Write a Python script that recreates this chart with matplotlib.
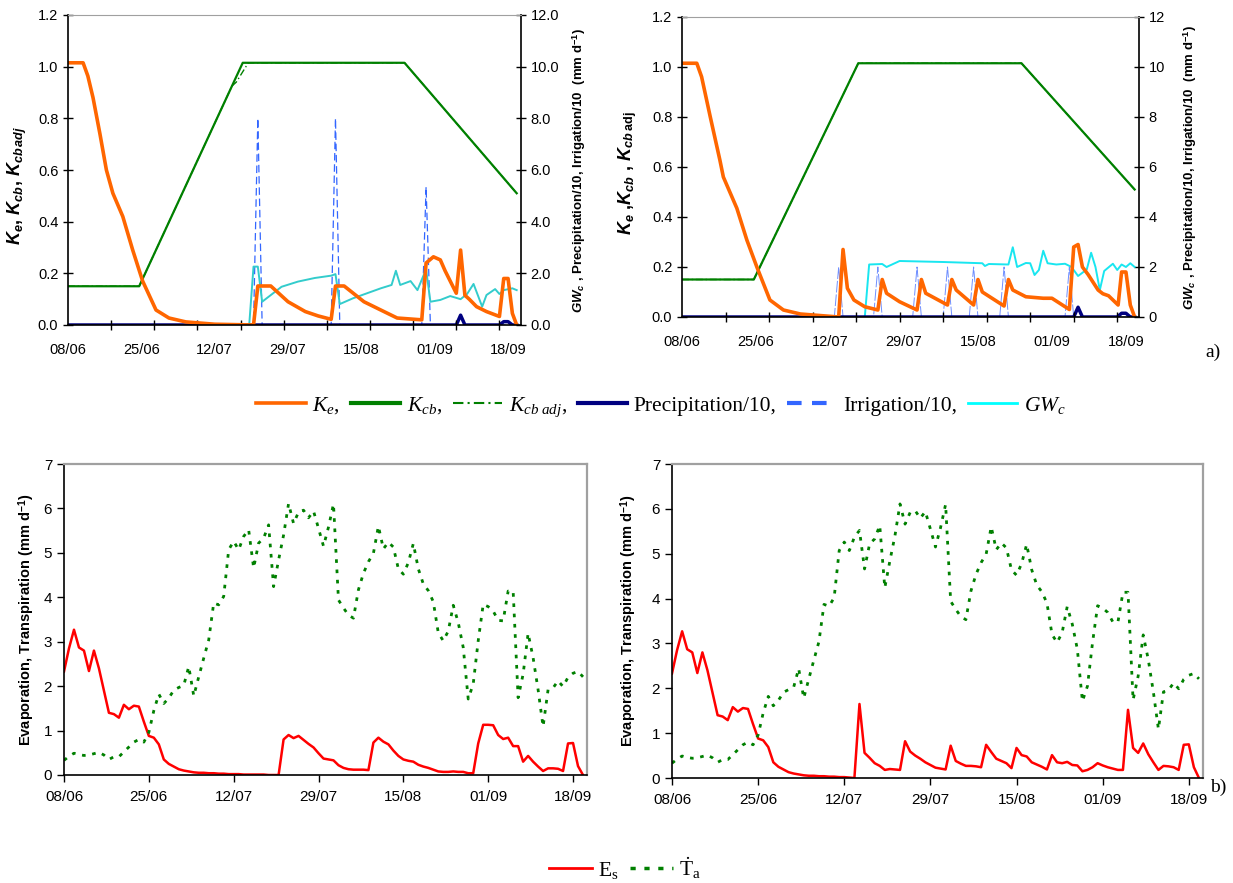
import matplotlib
matplotlib.use('Agg')
import matplotlib.pyplot as plt
from matplotlib.lines import Line2D
from matplotlib.ticker import FormatStrFormatter, FixedLocator

plt.rcParams['font.family'] = ['Liberation Sans', 'DejaVu Sans']
plt.rcParams['mathtext.fontset'] = 'custom'
plt.rcParams['mathtext.rm'] = 'Liberation Serif'
plt.rcParams['mathtext.it'] = 'Liberation Serif:italic'
plt.rcParams['mathtext.bf'] = 'Liberation Sans:bold'
plt.rcParams['mathtext.bfit'] = 'Liberation Sans:italic:bold'

# x = days after 08/06
tick_days = [0, 17, 34, 51, 68, 85, 102]
tick_labels = ['08/06', '25/06', '12/07', '29/07', '15/08', '01/09', '18/09']
days = list(range(105))

# ---- a) crop coefficients, left scenario
kcb_days = [0, 16.5, 40.5, 78, 104]
kcb = [0.15, 0.15, 1.015, 1.015, 0.51]
kcb_adj_l_days = [0, 16.5, 38, 39, 41.8, 78, 104]
kcb_adj_l = [0.15, 0.15, 0.925, 0.94, 1.015, 1.015, 0.51]

ke_l_days = [0, 3.5, 4.6, 5.8, 7.4, 8.9, 10.4, 12.7, 15, 17.3, 20.4, 23.4, 27.3, 34, 43, 44, 47,
             51, 55, 58, 61, 62, 64, 68.6, 72.5, 76.3, 82, 83, 84.7, 86.3, 87.4, 90, 91, 92, 93,
             94.7, 97, 100, 101, 102, 103, 104]
ke_l = [1.015, 1.015, 0.964, 0.88, 0.74, 0.60, 0.51, 0.42, 0.29, 0.17, 0.058, 0.027, 0.012, 0.003,
        0.0, 0.151, 0.151, 0.09, 0.052, 0.035, 0.022, 0.151, 0.151, 0.09, 0.058, 0.027, 0.02, 0.24,
        0.264, 0.252, 0.21, 0.123, 0.29, 0.115, 0.10, 0.071, 0.052, 0.033, 0.18, 0.18, 0.045, 0.0]

gw_l_days = [0, 42, 43, 44, 45, 49.5, 53.3, 57.2, 61, 62, 63, 66, 72.5, 75, 76, 77, 79.4, 81, 83, 84,
             86.3, 88.6, 91, 92.5, 94, 96, 97, 99, 100, 101, 103, 104]
gw_l = [0, 0, 2.26, 2.26, 0.90, 1.48, 1.68, 1.82, 1.91, 1.97, 0.81, 1.03, 1.42, 1.55, 2.1, 1.55, 1.70,
        1.35, 2.16, 0.90, 0.97, 1.12, 1.0, 1.2, 1.59, 0.71, 1.16, 1.39, 1.20, 1.35, 1.42, 1.35]

irr_l_days = [0, 43, 44, 45, 61, 62, 63, 82, 83, 84, 104]
irr_l = [0, 0, 8.0, 0, 0, 8.0, 0, 0, 5.35, 0, 0]

pre_l_days = [0, 90, 91, 92, 100, 101, 102, 103, 104]
pre_l = [0, 0, 0.38, 0, 0, 0.13, 0.13, 0, 0]

# ---- a) crop coefficients, right scenario
ke_r_days = [0, 3.4, 4.5, 6.5, 8.7, 9.5, 12.6, 14.9, 17.2, 20.2, 23.3, 27.2, 36, 37, 38, 39.5, 42, 45,
             46, 47, 50, 54, 55, 56, 61, 62, 63, 67, 68, 69, 74, 75, 76, 79, 83, 85, 89, 90, 91, 92,
             93.3, 95.6, 96.7, 98, 100.2, 101, 102, 103, 104]
ke_r = [1.015, 1.015, 0.961, 0.80, 0.628, 0.56, 0.435, 0.308, 0.2, 0.068, 0.028, 0.012, 0.0, 0.27,
        0.115, 0.068, 0.041, 0.028, 0.15, 0.095, 0.061, 0.028, 0.15, 0.095, 0.048, 0.15, 0.108, 0.048,
        0.15, 0.10, 0.044, 0.15, 0.108, 0.081, 0.075, 0.075, 0.03, 0.28, 0.29, 0.2, 0.17, 0.108,
        0.093, 0.085, 0.048, 0.18, 0.18, 0.048, 0.0]

gw_r_days = [0, 42, 43, 46, 47, 50, 60, 69, 69.6, 70.5, 75, 76, 77, 79, 80, 81, 82, 83, 84, 86, 88,
             89.5, 91, 93, 94, 95, 96, 97, 99, 100, 101, 102, 103, 104]
gw_r = [0, 0, 2.1, 2.12, 2.0, 2.24, 2.2, 2.15, 2.04, 2.12, 2.1, 2.79, 2.0, 2.16, 2.15, 1.68, 1.88,
        2.65, 2.15, 2.1, 2.13, 2.0, 1.64, 1.9, 2.57, 2.0, 1.08, 1.84, 2.13, 1.88, 2.1, 2.0, 2.15, 2.0]

irr_r_days = [0, 35, 36, 37, 44, 45, 46, 53, 54, 55, 60, 61, 62, 66, 67, 68, 73, 74, 75, 88, 89, 90, 104]
irr_r = [0, 0, 2, 0, 0, 2, 0, 0, 2, 0, 0, 2, 0, 0, 2, 0, 0, 2, 0, 0, 2, 0, 0]

pre_r_days = [0, 90, 91, 92, 100, 101, 102, 103, 104]
pre_r = [0, 0, 0.39, 0, 0, 0.15, 0.15, 0, 0]

# ---- b) evaporation and transpiration (mm/d), daily
es_l = [2.33, 2.85, 3.27, 2.87, 2.80, 2.34, 2.80, 2.40, 1.90, 1.40,
        1.37, 1.29, 1.58, 1.48, 1.56, 1.54, 1.20, 0.88, 0.84, 0.69,
        0.35, 0.25, 0.19, 0.13, 0.10, 0.08, 0.06, 0.05, 0.05, 0.04,
        0.04, 0.03, 0.03, 0.02, 0.02, 0.02, 0.01, 0.01, 0.01, 0.01,
        0.01, 0.00, 0.00, 0.00, 0.80, 0.90, 0.83, 0.88, 0.79, 0.70,
        0.62, 0.49, 0.37, 0.35, 0.33, 0.22, 0.16, 0.13, 0.12, 0.12,
        0.12, 0.11, 0.73, 0.84, 0.75, 0.69, 0.55, 0.43, 0.35, 0.32,
        0.30, 0.23, 0.19, 0.16, 0.12, 0.08, 0.07, 0.07, 0.08, 0.07,
        0.07, 0.04, 0.04, 0.71, 1.13, 1.13, 1.12, 0.90, 0.81, 0.84,
        0.65, 0.65, 0.30, 0.43, 0.30, 0.19, 0.09, 0.15, 0.15, 0.14,
        0.09, 0.71, 0.72, 0.20, 0.00]
es_r = [2.33, 2.85, 3.27, 2.87, 2.80, 2.34, 2.80, 2.40, 1.90, 1.40,
        1.37, 1.29, 1.58, 1.48, 1.56, 1.54, 1.20, 0.88, 0.84, 0.69,
        0.35, 0.25, 0.19, 0.13, 0.10, 0.08, 0.06, 0.05, 0.05, 0.04,
        0.04, 0.03, 0.03, 0.02, 0.02, 0.01, 0.00, 1.65, 0.56, 0.45,
        0.33, 0.27, 0.18, 0.20, 0.19, 0.18, 0.82, 0.59, 0.50, 0.43,
        0.35, 0.29, 0.23, 0.21, 0.19, 0.72, 0.38, 0.32, 0.27, 0.27,
        0.26, 0.24, 0.74, 0.58, 0.43, 0.38, 0.33, 0.22, 0.67, 0.51,
        0.48, 0.35, 0.30, 0.25, 0.19, 0.51, 0.35, 0.33, 0.36, 0.29,
        0.28, 0.15, 0.18, 0.24, 0.33, 0.28, 0.24, 0.21, 0.18, 0.18,
        1.52, 0.67, 0.56, 0.77, 0.53, 0.35, 0.18, 0.27, 0.26, 0.24,
        0.18, 0.74, 0.75, 0.24, 0.00]
ta = [0.33, 0.42, 0.49, 0.46, 0.44, 0.45, 0.48, 0.51, 0.45, 0.35,
      0.41, 0.41, 0.52, 0.63, 0.74, 0.80, 0.74, 0.96, 1.45, 1.82,
      1.61, 1.73, 1.91, 1.97, 2.02, 2.44, 1.78, 2.21, 2.63, 3.04,
      3.87, 3.83, 4.02, 5.07, 5.26, 5.07, 5.37, 5.52, 4.66, 5.22,
      5.33, 5.63, 4.24, 4.84, 5.40, 6.11, 5.66, 5.92, 5.96, 5.79,
      5.94, 5.55, 5.15, 5.58, 6.10, 3.94, 3.76, 3.60, 3.53, 4.17,
      4.54, 4.80, 4.99, 5.60, 5.09, 5.24, 5.13, 4.64, 4.52, 4.78,
      5.21, 4.64, 4.30, 4.15, 3.90, 3.20, 3.02, 3.24, 3.82, 3.43,
      2.87, 1.71, 2.05, 3.02, 3.84, 3.79, 3.69, 3.48, 3.47, 4.14,
      4.14, 1.74, 2.27, 3.19, 2.64, 1.92, 1.09, 1.92, 1.96, 2.12,
      1.99, 2.20, 2.29, 2.33, 2.21]

ORANGE = '#FF6600'
GREEN = '#008000'
NAVY = '#000080'
BLUE = '#3366FF'
GREY = '#A0A0A0'
W, H = 1233.0, 883.0


def rect(x0, y0, x1, y1):
    return [x0 / W, 1 - y1 / H, (x1 - x0) / W, (y1 - y0) / H]


fig = plt.figure(figsize=(12.33, 8.83), dpi=100)


def top_panel(box, ke_d, ke, adj_d, adj, gw_d, gw, gw_col, irr_d, irr, irr_kw, pre_d, pre,
              right_fmt, left_label, lpos, rpos):
    ax = fig.add_axes(rect(*box))
    axr = ax.twinx()
    ax.set_zorder(axr.get_zorder() + 1)
    ax.patch.set_visible(False)

    axr.plot(irr_d, irr, **irr_kw)
    axr.plot(gw_d, gw, color=gw_col, lw=1.4)
    axr.plot(pre_d, pre, color=NAVY, lw=2.5)
    ax.plot(kcb_days, kcb, color=GREEN, lw=1.6)
    ax.plot(adj_d, adj, color=GREEN, lw=1.0, ls=(0, (5, 2, 1, 2)))
    ax.plot(ke_d, ke, color=ORANGE, lw=2.6)

    ax.set_xlim(0, 105)
    ax.set_ylim(0, 1.2)
    axr.set_ylim(0, 12)
    ax.set_yticks([0, 0.2, 0.4, 0.6, 0.8, 1.0, 1.2])
    ax.yaxis.set_major_formatter(FormatStrFormatter('%.1f'))
    axr.set_yticks(range(0, 13, 2))
    axr.yaxis.set_major_formatter(FormatStrFormatter(right_fmt))
    ax.set_xticks(tick_days)
    ax.set_xticklabels(tick_labels)
    ax.xaxis.set_minor_locator(FixedLocator(range(0, 105, 10)))
    ax.tick_params(axis='x', which='major', length=0, labelsize=10.5, pad=13)
    ax.tick_params(axis='x', which='minor', direction='inout', length=7, width=1)
    ax.tick_params(axis='y', direction='inout', length=7, width=1, labelsize=10.5)
    axr.tick_params(axis='y', direction='inout', length=7, width=1, labelsize=10.5)

    for s in ['top', 'left', 'bottom']:
        axr.spines[s].set_visible(False)
    ax.spines['right'].set_visible(False)
    ax.spines['top'].set_color(GREY)
    ax.spines['left'].set_linewidth(1.2)
    ax.spines['bottom'].set_linewidth(1.2)
    axr.spines['right'].set_linewidth(1.2)

    ax.set_ylabel(left_label, fontsize=13, fontweight='bold')
    ax.yaxis.set_label_coords(*lpos)
    axr.set_ylabel(r'$\mathbfit{GW_c}$ , Precipitation/10, Irrigation/10  (mm d$^{\mathbf{-1}}$)',
                   fontsize=9.5, fontweight='bold', rotation=90)
    axr.yaxis.set_label_coords(rpos, 0.5)
    return ax


top_panel((68, 15, 521, 325), ke_l_days, ke_l, kcb_adj_l_days, kcb_adj_l, gw_l_days, gw_l,
          '#33CCCC', irr_l_days, irr_l, dict(color=BLUE, lw=0.9, ls=(0, (6, 3))),
          pre_l_days, pre_l, '%.1f',
          r'$\mathbfit{K_e}$, $\mathbfit{K_{cb}}$, $\mathbfit{K_{cb\,adj}}$', (-0.085, 0.45), 1.11)
top_panel((682, 17, 1139, 317), ke_r_days, ke_r, kcb_days, kcb, gw_r_days, gw_r,
          '#19E6F0', irr_r_days, irr_r, dict(color='#6F8FFF', lw=0.7, ls=(0, (12, 2))),
          pre_r_days, pre_r, '%d',
          r'$\mathbfit{K_e}$ ,$\mathbfit{K_{cb}}$ , $\mathbfit{K}_{\mathbfit{cb}\ \mathbf{adj}}$',
          (-0.093, 0.48), 1.092)


def bottom_panel(box, es, lpos):
    ax = fig.add_axes(rect(*box))
    ax.plot(days, es, color='#FF0000', lw=1.8)
    ax.plot(days, ta, color=GREEN, lw=2.0, ls=(0, (1.3, 2.4)))
    ax.set_xlim(0, 104.8)
    ax.set_ylim(0, 7)
    ax.set_yticks(range(0, 8))
    ax.set_xticks(tick_days)
    ax.set_xticklabels(tick_labels)
    ax.tick_params(axis='both', direction='out', length=5, width=1, labelsize=11)
    ax.tick_params(axis='x', pad=6)
    for s in ['top', 'right']:
        ax.spines[s].set_color(GREY)
        ax.spines[s].set_linewidth(1.6)
    ax.spines['left'].set_linewidth(1.2)
    ax.spines['bottom'].set_linewidth(1.2)
    ax.set_ylabel(r'Evaporation, Transpiration (mm d$^{\mathbf{-1}}$)', fontsize=10.5,
                  fontweight='bold')
    ax.yaxis.set_label_coords(lpos, 0.5)


bottom_panel((64, 464, 587, 775), es_l, -0.052)
bottom_panel((672, 464, 1203, 778), es_r, -0.062)

# legends
h_top = [Line2D([], [], color=ORANGE, lw=2.6),
         Line2D([], [], color=GREEN, lw=3),
         Line2D([], [], color=GREEN, lw=1.5, ls=(0, (5, 2, 1, 2))),
         Line2D([], [], color=NAVY, lw=3),
         Line2D([], [], color=BLUE, lw=3, ls=(0, (3.5, 2.5))),
         Line2D([], [], color='#00FFFF', lw=2)]
l_top = [r'$K_e$,', r'$K_{cb}$,', r'$K_{cb\ adj}$,', 'Precipitation/10,', 'Irrigation/10,',
         r'$GW_c$']
fig.legend(h_top, l_top, loc='center', bbox_to_anchor=(661 / W, 1 - 407 / H), ncol=6,
           frameon=False, prop={'family': 'Liberation Serif', 'size': 15.5},
           handlelength=2.3, handletextpad=0.3, columnspacing=0.5)

h_bot = [Line2D([], [], color='#FF0000', lw=2),
         Line2D([], [], color=GREEN, lw=2.5, ls=(0, (1.5, 2.5)))]
l_bot = [r'E$_\mathrm{s}$', r'$\dot{\mathrm{T}}_\mathrm{a}$']
fig.legend(h_bot, l_bot, loc='center', bbox_to_anchor=(625 / W, 1 - 868 / H), ncol=2,
           frameon=False, prop={'family': 'Liberation Serif', 'size': 15.5},
           handlelength=2.0, handletextpad=0.3, columnspacing=0.5)

fig.text(1205 / W, 1 - 352 / H, 'a)', family='Liberation Serif', fontsize=14, va='center')
fig.text(1210 / W, 1 - 787 / H, 'b)', family='Liberation Serif', fontsize=14, va='center')

fig.savefig('out.png', dpi=100)
